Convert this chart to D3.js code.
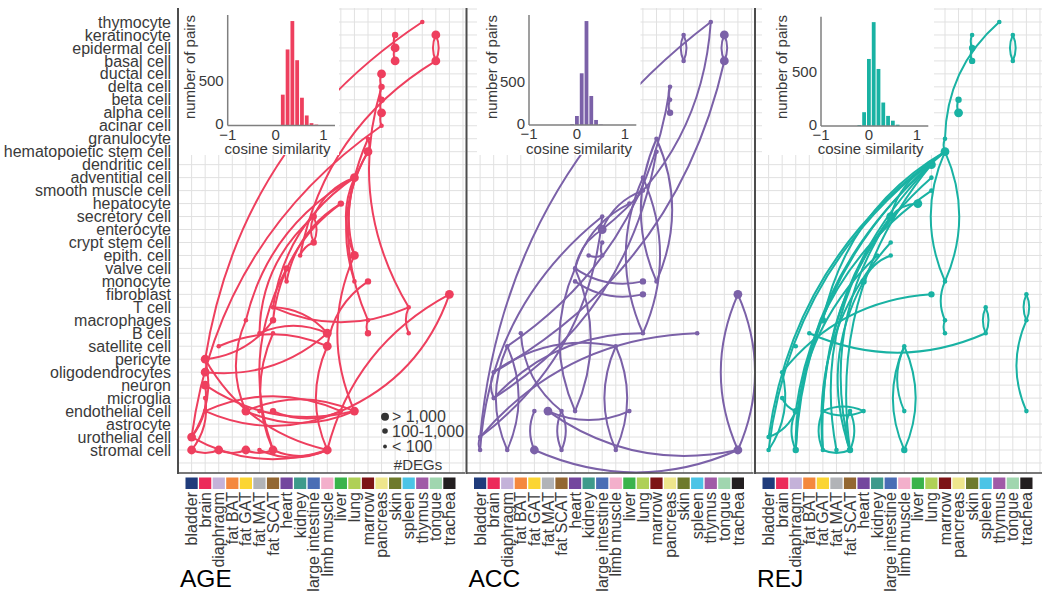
<!DOCTYPE html>
<html><head><meta charset="utf-8">
<script src="https://cdn.jsdelivr.net/npm/d3@7"></script>
<style>body{margin:0;background:#fff;} svg{display:block;font-family:"Liberation Sans",Arial,sans-serif;}</style>
</head><body><svg id="c" width="1050" height="597"></svg>
<script>
// ---------- data ----------
const cellTypes = ["thymocyte","keratinocyte","epidermal cell","basal cell","ductal cell","delta cell","beta cell","alpha cell","acinar cell","granulocyte","hematopoietic stem cell","dendritic cell","adventitial cell","smooth muscle cell","hepatocyte","secretory cell","enterocyte","crypt stem cell","epith. cell","valve cell","monocyte","fibroblast","T cell","macrophages","B cell","satellite cell","pericyte","oligodendrocytes","neuron","microglia","endothelial cell","astrocyte","urothelial cell","stromal cell"];
const tissues = ["bladder","brain","diaphragm","fat BAT","fat GAT","fat MAT","fat SCAT","heart","kidney","large intestine","limb muscle","liver","lung","marrow","pancreas","skin","spleen","thymus","tongue","trachea"];
const tissueColors = ["#1F3B7B","#EC2A5A","#C4B2D9","#F4883D","#FBD533","#B1B3B7","#936732","#74479E","#3E9A8B","#4A6DB5","#F3AFCB","#3AB34B","#AFD057","#7D1416","#EEE68C","#6E7A2C","#4BC4E6","#A05BA7","#A0D6AF","#231F20"];
const panelNames = ["AGE","ACC","REJ"];
const panelColors = ["#EE3F5E","#7B61A8","#19B2A3"];
const histTicksX = [-1, 0, 1];
const histTicksY = [0, 500];
const histYMax = [1222, 1270, 1006];
const sizeLabels = ["> 1,000","100-1,000","< 100"];

// histogram bins (start of 0.1-wide bin) and counts
const ageBinStart = [0.10,0.20,0.30,0.40,0.50,0.60,0.70,0.80];
const ageCounts   = [341, 841, 1155, 722, 307, 111, 26, 10];
const accBinStart = [-0.15,-0.05,0.05,0.15,0.25,0.35,0.45];
const accCounts   = [8, 104, 597, 1200, 335, 58, 5];
const rejBinStart = [-0.25,-0.15,-0.05,0.05,0.15,0.25,0.35,0.45,0.55];
const rejCounts   = [8, 127, 617, 956, 525, 216, 93, 49, 12];

// nodes: [tissue index, cell level (0 = stromal cell ... 33 = thymocyte), #DEGs class 1..3]
const ageNodes = [[0,0,3],[0,1,3],[1,3,1],[1,4,1],[1,5,3],[1,6,3],[1,7,3],[2,8,1],[2,0,3],[4,10,1],[4,3,3],[4,0,3],[5,0,1],[5,3,1],[5,9,1],[6,0,3],[6,3,2],[6,9,1],[6,10,2],[6,11,1],[7,14,2],[7,13,1],[8,15,1],[9,16,2],[9,18,2],[10,9,3],[10,8,3],[10,0,3],[11,3,1],[11,19,2],[12,3,3],[12,21,3],[12,15,3],[12,13,1],[13,23,3],[13,24,1],[13,13,2],[13,10,1],[13,9,2],[14,29,3],[14,28,2],[14,27,2],[14,26,3],[14,25,1],[15,32,2],[15,31,3],[15,30,3],[16,11,1],[16,9,1],[17,33,1],[18,32,3],[18,30,3],[19,12,3]];
// edges: [from tissue, from level, to tissue, to level]
const ageEdges = [[17,33,1,7],[14,25,0,1],[18,30,8,15],[14,28,16,11],[18,32,18,30],[18,30,18,32],[15,32,15,31],[15,31,15,30],[14,29,14,28],[14,28,14,27],[14,27,14,26],[14,26,14,25],[13,23,13,24],[13,24,13,10],[13,23,12,13],[13,23,12,15],[12,21,4,10],[12,21,9,18],[12,21,12,15],[12,21,6,11],[11,19,6,10],[11,19,7,13],[9,18,9,16],[9,16,9,18],[9,16,8,15],[9,18,5,9],[7,14,7,13],[7,14,6,0],[12,15,12,3],[13,13,10,8],[16,11,16,9],[13,10,13,9],[19,12,10,0],[11,3,19,12],[6,11,16,11],[10,8,2,8],[10,9,5,9],[10,9,6,11],[10,8,10,0],[1,3,11,3],[11,3,1,3],[4,3,12,3],[12,3,4,3],[6,3,11,3],[0,0,2,0],[2,0,4,0],[4,0,6,0],[6,0,10,0],[5,0,10,0],[0,1,10,0],[1,7,10,0],[0,1,1,7],[1,5,12,3],[1,6,10,9],[0,0,1,4],[1,7,6,10],[4,10,4,3],[6,9,6,0],[0,1,1,5]];

const accNodes = [[17,33,1],[15,32,1],[15,30,1],[18,32,3],[18,30,3],[14,28,1],[14,27,1],[14,26,2],[13,24,1],[13,23,1],[12,21,1],[12,20,1],[11,19,1],[9,18,1],[9,17,3],[9,16,1],[8,15,1],[9,15,1],[7,14,1],[7,13,1],[12,13,2],[12,12,2],[13,13,1],[19,12,3],[16,9,1],[12,9,1],[10,8,1],[2,8,1],[3,9,1],[1,6,1],[1,4,1],[4,3,1],[5,3,3],[6,3,1],[7,3,1],[11,3,1],[0,1,1],[0,0,1],[2,0,1],[4,0,3],[6,0,1],[10,0,1],[19,0,3]];
const accEdges = [[17,33,0,1],[9,17,17,33],[1,6,18,30],[18,32,18,30],[18,30,18,32],[15,32,15,30],[15,30,15,32],[14,28,14,27],[14,27,14,26],[2,8,14,28],[13,24,13,13],[13,13,13,24],[1,4,13,23],[12,21,12,9],[12,9,12,21],[12,20,9,17],[11,19,7,14],[9,18,0,0],[9,17,7,14],[9,16,9,15],[8,15,9,15],[7,14,12,13],[7,13,12,12],[7,14,7,3],[7,3,7,14],[19,12,19,0],[19,0,19,12],[4,0,19,0],[5,3,19,0],[16,9,0,1],[12,9,1,4],[10,8,10,0],[10,0,10,8],[10,8,1,6],[2,8,2,0],[2,0,2,8],[3,9,6,3],[6,3,6,0],[6,0,6,3],[5,3,11,3],[1,6,1,4],[0,1,0,0],[4,3,4,0],[0,1,9,18]];

const rejNodes = [[17,33,1],[15,32,1],[15,31,2],[15,30,2],[18,32,1],[18,30,1],[14,27,2],[14,26,3],[13,24,1],[13,23,3],[12,22,3],[12,21,1],[12,20,1],[11,19,3],[9,18,3],[9,16,1],[8,15,1],[9,15,1],[7,13,2],[12,12,2],[13,13,1],[13,10,1],[13,9,1],[16,11,1],[16,9,1],[19,12,1],[19,10,1],[19,3,1],[4,10,2],[2,8,1],[1,6,1],[3,9,1],[10,8,1],[10,3,1],[10,0,2],[1,4,1],[2,3,2],[4,3,1],[6,3,1],[7,3,1],[0,1,1],[0,0,1],[2,0,2],[4,0,1],[5,0,1],[6,0,2]];
const rejEdges = [[17,33,13,24],[15,32,15,31],[15,31,15,30],[18,32,18,30],[18,30,18,32],[14,27,14,26],[13,24,13,23],[13,23,0,1],[13,23,0,0],[13,23,2,0],[13,23,4,10],[12,22,2,0],[12,22,4,0],[12,22,6,0],[12,22,9,18],[12,21,4,3],[12,20,2,3],[11,19,9,18],[9,18,6,0],[9,18,5,0],[9,16,4,0],[8,15,2,0],[9,15,7,13],[7,13,6,0],[13,23,13,13],[13,13,13,23],[13,13,13,10],[13,10,13,9],[16,11,16,9],[16,9,16,11],[19,12,19,10],[19,10,19,12],[19,10,19,3],[10,8,10,0],[10,0,10,8],[10,8,10,3],[12,12,1,6],[3,9,16,9],[4,3,7,3],[7,3,4,3],[6,3,6,0],[6,0,6,3],[4,3,4,0],[4,0,6,0],[2,3,2,0],[1,4,2,3],[0,1,2,3],[0,0,1,6]];

// ---------- layout ----------
const svg = d3.select("#c");
const panelX = [178, 466.5, 755];
const PW = 287, PT = 8, PB = 473;
const insetBox = [[0,161],[10.5,174],[7,179]];
const insetAxisX = [49.7, 62.5, 66];
const insetTop = [15, 15, 16.7], insetBase = [125.5, 125, 126];
const insetTitleX = [12, 25, 27], insetXLabX = [99.5, 112.5, 115.7];
const allNodes = [ageNodes, accNodes, rejNodes];
const allEdges = [ageEdges, accEdges, rejEdges];
const allBins = [ageBinStart, accBinStart, rejBinStart];
const allCounts = [ageCounts, accCounts, rejCounts];
const rScale = d3.scaleOrdinal().domain([1,2,3]).range([2.3, 3.2, 4.4]);
const yScale = d3.scaleLinear().domain([0, 33]).range([450, 22]);
const textCol = "#3a3a3a";

// y labels
svg.append("g").selectAll("text").data(cellTypes).join("text")
  .attr("x", 171).attr("y", (d,i) => yScale(33 - i)).attr("dy", "0.35em")
  .attr("text-anchor", "end").attr("font-size", 16).attr("fill", textCol).text(d => d);

panelNames.forEach((name, p) => {
  const x0 = panelX[p];
  const col = panelColors[p];
  const band = d3.scaleBand().domain(tissues).range([x0 + 7.5, x0 + 277.5]).paddingInner(0.1);
  const step = band.step();
  const xc = i => band(tissues[i]) + band.bandwidth() / 2;
  const g = svg.append("g");
  // grid
  g.append("g").selectAll("line").data(d3.range(0, 21)).join("line")
    .attr("x1", d => xc(0) + d * step).attr("x2", d => xc(0) + d * step).attr("y1", PT).attr("y2", PB)
    .attr("stroke", "#E1E1E1").attr("stroke-width", 1);
  g.append("g").selectAll("line").data(d3.range(-1, 35)).join("line")
    .attr("y1", d => yScale(d)).attr("y2", d => yScale(d)).attr("x1", x0).attr("x2", x0 + PW)
    .attr("stroke", "#E1E1E1").attr("stroke-width", 1);
  // edges
  const curv = 0.22;
  g.append("g").selectAll("path").data(allEdges[p]).join("path")
    .attr("d", e => {
      const xa = xc(e[0]), ya = yScale(e[1]), xb = xc(e[2]), yb = yScale(e[3]);
      const mx = (xa + xb) / 2, my = (ya + yb) / 2;
      const dx = xb - xa, dy = yb - ya;
      const cx = mx - curv * dy, cy = my + curv * dx;
      return `M${xa},${ya}Q${cx},${cy} ${xb},${yb}`;
    })
    .attr("fill", "none").attr("stroke", col).attr("stroke-width", 2).attr("stroke-linecap", "round");
  // nodes
  g.append("g").selectAll("circle").data(allNodes[p]).join("circle")
    .attr("cx", d => xc(d[0])).attr("cy", d => yScale(d[1])).attr("r", d => rScale(d[2]))
    .attr("fill", col);
  // inset
  const ib = insetBox[p];
  g.append("rect").attr("x", x0 + ib[0]).attr("y", PT - 1).attr("width", ib[1] - ib[0]).attr("height", 155 - PT + 1).attr("fill", "#fff");
  const ax = x0 + insetAxisX[p];
  const hx = d3.scaleLinear().domain([-1, 1.24]).range([ax, ax + 107.3]);
  const hy = d3.scaleLinear().domain([0, histYMax[p]]).range([insetBase[p], insetTop[p]]);
  g.append("g").selectAll("rect").data(allBins[p].map((b, i) => [b, allCounts[p][i]])).join("rect")
    .attr("x", d => hx(d[0]) + 0.5).attr("width", d => hx(d[0] + 0.1) - hx(d[0]) - 1)
    .attr("y", d => hy(d[1])).attr("height", d => hy(0) - hy(d[1])).attr("fill", col);
  g.append("line").attr("x1", ax).attr("x2", ax).attr("y1", insetTop[p]).attr("y2", insetBase[p]).attr("stroke", "#7f7f7f").attr("stroke-width", 1.5);
  g.append("line").attr("x1", ax).attr("x2", ax + 107.3).attr("y1", insetBase[p]).attr("y2", insetBase[p]).attr("stroke", "#7f7f7f").attr("stroke-width", 1.5);
  g.append("g").selectAll("text").data(histTicksY).join("text")
    .attr("x", ax - 4).attr("y", d => hy(d) - (d === 0 ? 1.5 : 0)).attr("dy", "0.35em").attr("text-anchor", "end")
    .attr("font-size", 15).attr("fill", textCol).text(d => d);
  g.append("g").selectAll("text").data(histTicksX).join("text")
    .attr("x", d => hx(d)).attr("y", insetBase[p] + 9).attr("dy", "0.35em").attr("text-anchor", "middle")
    .attr("font-size", 15).attr("fill", textCol).text(d => d < 0 ? "\u2212" + Math.abs(d) : d);
  g.append("text").attr("x", x0 + insetXLabX[p]).attr("y", 148.5).attr("dy", "0.35em").attr("text-anchor", "middle")
    .attr("font-size", 15).attr("fill", textCol).text("cosine similarity");
  g.append("text").attr("transform", `translate(${x0 + insetTitleX[p]},67) rotate(-90)`).attr("dy", "0.35em")
    .attr("text-anchor", "middle").attr("font-size", 15).attr("fill", textCol).text("number of pairs");
  // frame
  g.append("line").attr("x1", x0).attr("x2", x0).attr("y1", PT).attr("y2", PB + 1).attr("stroke", "#4d4d4d").attr("stroke-width", 2);
  g.append("line").attr("x1", x0).attr("x2", x0 + PW).attr("y1", PB).attr("y2", PB).attr("stroke", "#4d4d4d").attr("stroke-width", 1.5);
  // tissue strip
  g.append("g").selectAll("rect").data(tissues).join("rect")
    .attr("x", d => band(d)).attr("y", 477.5).attr("width", band.bandwidth()).attr("height", 11.5)
    .attr("fill", (d, i) => tissueColors[i]);
  g.append("g").selectAll("text").data(tissues).join("text")
    .attr("transform", d => `translate(${band(d) + band.bandwidth() / 2},492) rotate(-90)`)
    .attr("dy", "0.35em").attr("text-anchor", "end").attr("font-size", 16).attr("fill", textCol).text(d => d);
  g.append("text").attr("x", x0 + 2).attr("y", 587).attr("font-size", 24.5).attr("fill", "#000").text(name);
});

// legend (#DEGs) in first panel
const lg = svg.append("g");
const legY = [416.7, 431, 446.5];
lg.selectAll("circle").data([3,2,1]).join("circle")
  .attr("cx", 385).attr("cy", (d,i) => legY[i]).attr("r", d => rScale(d) - 0.4).attr("fill", "#333");
lg.selectAll("text.l").data(sizeLabels).join("text").attr("class","l")
  .attr("x", 392).attr("y", (d,i) => legY[i]).attr("dy", "0.35em")
  .attr("font-size", 16).attr("fill", textCol).text(d => d);
lg.append("text").attr("x", 418).attr("y", 465).attr("dy", "0.35em").attr("text-anchor", "middle")
  .attr("font-size", 15).attr("fill", textCol).text("#DEGs");
</script></body></html>
